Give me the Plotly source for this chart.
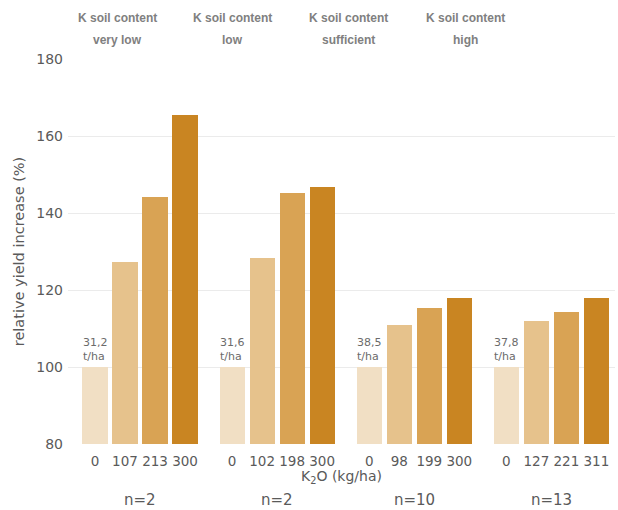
import plotly.graph_objects as go

groups = ["very low", "low", "sufficient", "high"]
n_labels = ["n=2", "n=2", "n=10", "n=13"]
doses = [["0", "107", "213", "300"],
         ["0", "102", "198", "300"],
         ["0", "98", "199", "300"],
         ["0", "127", "221", "311"]]
values = [[100, 127.3, 144.2, 165.5],
          [100, 128.2, 145.2, 146.8],
          [100, 111.0, 115.3, 117.8],
          [100, 112.0, 114.4, 117.8]]
base_yield = ["31,2", "31,6", "38,5", "37,8"]

colors = ["#f1dfc4", "#e6c28c", "#d9a354", "#c98522"]
FONT = "DejaVu Sans, sans-serif"
HFONT = "Liberation Sans, Arial, sans-serif"
TXT = "#5a5a5a"
stride = 4.57

fig = go.Figure()
tickvals, ticktext = [], []
for i in range(4):
    xs = [g * stride + i for g in range(4)]
    ys = [values[g][i] for g in range(4)]
    fig.add_trace(go.Bar(x=xs, y=ys, width=0.84, marker=dict(color=colors[i], line=dict(width=0)),
                         showlegend=False, hoverinfo="skip"))
for g in range(4):
    for i in range(4):
        tickvals.append(g * stride + i)
        ticktext.append(doses[g][i])

annotations = []
for g in range(4):
    annotations.append(dict(x=g * stride, y=values[g][0], xref="x", yref="y",
                            text=base_yield[g] + "<br>t/ha", showarrow=False,
                            yanchor="bottom", xanchor="center", yshift=2,
                            font=dict(family=FONT, size=11, color="#6b6b6b"), align="left"))
    annotations.append(dict(x=g * stride + 1.5, y=-0.145, xref="x", yref="paper",
                            text=n_labels[g], showarrow=False, yanchor="middle", xanchor="center",
                            font=dict(family=FONT, size=15, color=TXT)))

header_x = [0.0914, 0.3016, 0.5137, 0.7276]
for g in range(4):
    annotations.append(dict(x=header_x[g], y=1.1065, xref="paper", yref="paper",
                            text="<b>K soil content</b>", showarrow=False,
                            yanchor="middle", xanchor="center",
                            font=dict(family=HFONT, size=12, color="#808080")))
    annotations.append(dict(x=header_x[g], y=1.049, xref="paper", yref="paper",
                            text="<b>" + groups[g] + "</b>", showarrow=False,
                            yanchor="middle", xanchor="center",
                            font=dict(family=HFONT, size=12, color="#808080")))

fig.update_layout(
    width=618, height=510,
    margin=dict(l=68, r=3, t=59, b=66),
    plot_bgcolor="white", paper_bgcolor="white",
    bargap=0,
    annotations=annotations,
    font=dict(family=FONT, size=14, color=TXT),
    xaxis=dict(range=[-0.9, 17.33], tickvals=tickvals, ticktext=ticktext,
               showgrid=False, zeroline=False, showline=False, ticks="",
               ticklabelstandoff=7,
               tickfont=dict(family=FONT, size=13.5, color=TXT),
               title=dict(text="K<sub>2</sub>O (kg/ha)", standoff=3,
                          font=dict(family=FONT, size=14, color=TXT))),
    yaxis=dict(range=[80, 180], tickvals=[80, 100, 120, 140, 160, 180],
               showgrid=True, gridcolor="#ebebeb", gridwidth=1, zeroline=False,
               showline=False, ticks="", ticklabelstandoff=4,
               tickfont=dict(family=FONT, size=14, color=TXT),
               title=dict(text="relative yield increase (%)", standoff=8,
                          font=dict(family=FONT, size=14.5, color=TXT))),
)

fig.write_html("out.html", config={"displayModeBar": False},
               post_script="document.body.style.margin='0';")
